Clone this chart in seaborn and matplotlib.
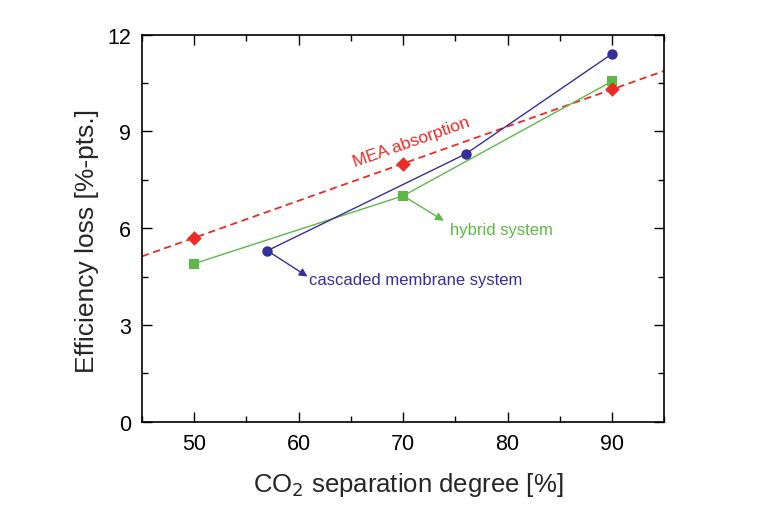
import numpy as np
import pandas as pd
import matplotlib
matplotlib.use("Agg")
import matplotlib.pyplot as plt
from matplotlib.ticker import MultipleLocator
import seaborn as sns

# data
mea_x = [50, 70, 90]
mea_y = [5.7, 8.0, 10.3]

hybrid_x = [50, 70, 90]
hybrid_y = [4.9, 7.0, 10.55]

cascade_x = [57, 76, 90]
cascade_y = [5.3, 8.3, 11.4]

x_ticks = [50, 60, 70, 80, 90]
y_ticks = [0, 3, 6, 9, 12]

RED = "#ee2a24"
GREEN = "#5cb946"
BLUE = "#34309a"

sns.set_style("ticks")
plt.rcParams['font.family'] = ['Liberation Sans', 'DejaVu Sans']

fig = plt.figure(figsize=(7.58, 5.06), dpi=100)
ax = fig.add_axes([0.1873, 0.1646, 0.689, 0.7652])
ax.set_xlim(45, 95)
ax.set_ylim(0, 12)

mea = pd.DataFrame({'x': mea_x, 'y': mea_y})
hybrid = pd.DataFrame({'x': hybrid_x, 'y': hybrid_y})
cascade = pd.DataFrame({'x': cascade_x, 'y': cascade_y})

# linear fit of MEA points, stretched over the full axis
sns.regplot(data=mea, x='x', y='y', ax=ax, ci=None, scatter=False, truncate=False,
            line_kws=dict(color=RED, lw=1.3, ls=(0, (4, 2.5))))

sns.lineplot(data=hybrid, x='x', y='y', ax=ax, color=GREEN, lw=1.0,
             marker='s', markersize=6.5, markeredgewidth=0, sort=False)
sns.lineplot(data=cascade, x='x', y='y', ax=ax, color=BLUE, lw=1.0,
             marker='o', markersize=7.5, markeredgewidth=0, sort=False)
sns.scatterplot(data=mea, x='x', y='y', ax=ax, color=RED, marker='D', s=55,
                linewidth=0, zorder=5)

ax.set_xlim(45, 95)
ax.set_ylim(0, 12)

# annotations
ax.text(70.8, 8.68, "MEA absorption", color=RED, fontsize=12.5, rotation=19.5,
        ha='center', va='center', rotation_mode='anchor')

ax.annotate("", xy=(73.9, 6.23), xytext=(hybrid_x[1], hybrid_y[1]),
            arrowprops=dict(arrowstyle='-|>', color=GREEN, lw=1.0,
                            shrinkA=4, shrinkB=0, mutation_scale=12))
ax.text(74.5, 5.96, "hybrid system", color=GREEN, fontsize=12, ha='left', va='center')

ax.annotate("", xy=(60.85, 4.5), xytext=(cascade_x[0], cascade_y[0]),
            arrowprops=dict(arrowstyle='-|>', color=BLUE, lw=1.0,
                            shrinkA=4, shrinkB=0, mutation_scale=12))
ax.text(61.0, 4.42, "cascaded membrane system", color=BLUE, fontsize=12,
        ha='left', va='center')

ax.set_xticks(x_ticks)
ax.set_yticks(y_ticks)
ax.xaxis.set_minor_locator(MultipleLocator(5))
ax.yaxis.set_minor_locator(MultipleLocator(1.5))
ax.tick_params(which='both', direction='in', top=True, right=True, width=1.0,
               color='black', labelsize=15.5, labelcolor='black')
ax.tick_params(which='major', length=7, pad=8)
ax.tick_params(which='minor', length=4)
for s in ax.spines.values():
    s.set_visible(True)
    s.set_linewidth(1.2)
    s.set_color('black')

ax.set_xlabel("CO$_2$ separation degree [%]", fontsize=18.5, labelpad=12, x=0.51)
ax.set_ylabel("Efficiency loss [%-pts.]", fontsize=19, labelpad=6, y=0.47)

fig.savefig("out.png", dpi=100)
